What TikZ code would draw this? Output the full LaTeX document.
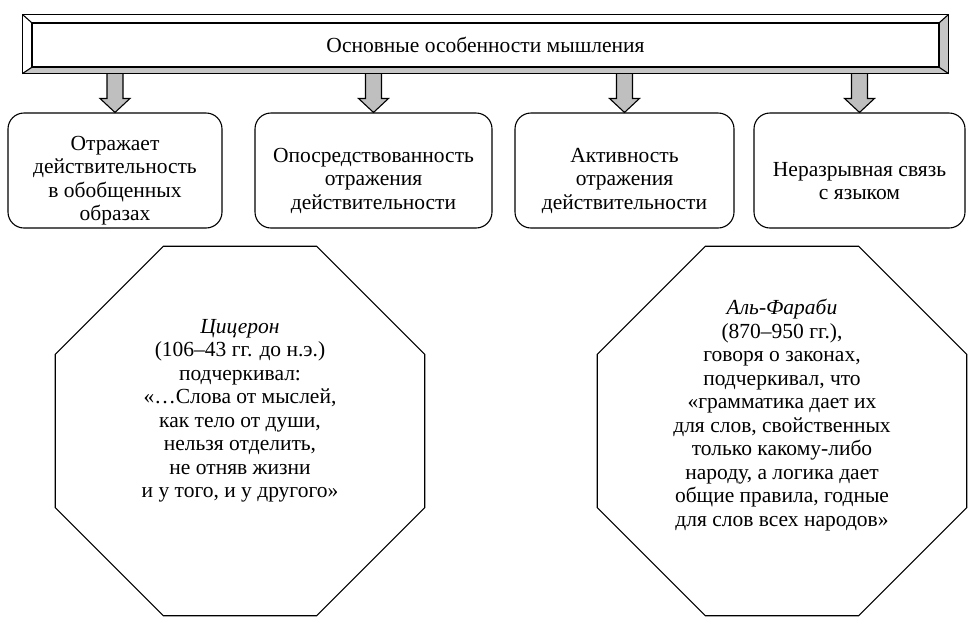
\documentclass[tikz,border=0pt]{standalone}
\usepackage{fontspec}
\setmainfont{Liberation Serif}
\usetikzlibrary{calc,shapes.geometric}

\newcommand{\fatarrow}[2]{%
  \draw[arrowbody] let \p1=(#1), \p2=(#2) in
    (\x2-8pt,\y1) -- (\x2+8pt,\y1) -- (\x2+8pt,\y2+14pt) -- (\x2+15pt,\y2+14pt)
    -- (\x2,\y2) -- (\x2-15pt,\y2+14pt) -- (\x2-8pt,\y2+14pt) -- cycle;}
\newcommand{\lowered}{\rule{0pt}{35pt}}

\begin{document}
\begin{tikzpicture}[x=1pt,y=1pt,
  txt/.style={font=\fontsize{21.5}{23.5}\selectfont},
  bar/.style={txt,draw,line width=1.1pt,minimum width=907pt,minimum height=44pt,inner sep=0pt},
  frame/.style={line width=1.1pt},
  bevel/.style={fill=gray!45},
  arrowbody/.style={draw,line width=1.1pt,fill=gray!50},
  feature/.style={txt,draw,line width=1.1pt,rounded corners=16pt,minimum height=115pt,align=center,inner sep=2pt},
  octa/.style={draw,line width=1.1pt,regular polygon,regular polygon sides=8,minimum size=400pt,inner sep=0pt},
  quote/.style={txt,align=center,inner sep=0pt}]

\useasboundingbox (0,0) rectangle (977,-625);

\node[feature,minimum width=214pt] (reflect) at (115,-170.5) {\lowered Отражает\\действительность\\в обобщенных\\образах};
\node[feature,minimum width=237pt] (mediated) at (373.5,-170.5) {\lowered Опосредствованность\\отражения\\действительности};
\node[feature,minimum width=219pt] (active) at (624.5,-170.5) {\lowered Активность\\отражения\\действительности};
\node[feature,minimum width=211pt] (language) at (859.5,-170.5) {\lowered Неразрывная связь\\с языком};

\node[bar] (bar) at (485.5,-45) {Основные особенности мышления};

\foreach \b in {reflect,mediated,active,language}{
  \fatarrow{bar.south}{\b.north}
}

\coordinate (outer north west) at ($(bar.north west)+(-9,8)$);
\coordinate (outer north east) at ($(bar.north east)+(9,8)$);
\coordinate (outer south east) at ($(bar.south east)+(9,-6)$);
\coordinate (outer south west) at ($(bar.south west)+(-9,-6)$);

\fill[bevel] (bar.south west) -- (bar.south east) -- (outer south east) -- (outer south west) -- cycle;
\fill[bevel] (bar.north east) -- (outer north east) -- (outer south east) -- (bar.south east) -- cycle;
\draw[frame] (outer north west) rectangle (outer south east);
\draw[frame] (bar.north west) rectangle (bar.south east);
\foreach \c in {north west,north east,south east,south west}
  \draw[frame] (bar.\c) -- (outer \c);

\node[octa] (cicero) at (240,-431) {};
\node[quote] (cicero text) at ($(cicero.center)+(0,20)$) {\textit{Цицерон}\\(106–43 гг. до н.э.)\\подчеркивал:\\«…Слова от мыслей,\\как тело от души,\\нельзя отделить,\\не отняв жизни\\и у того, и у другого»};

\node[octa] (farabi) at (782,-431) {};
\node[quote] (farabi text) at ($(farabi.center)+(0,16)$) {\textit{Аль-Фараби}\\(870–950 гг.),\\говоря о законах,\\подчеркивал, что\\«грамматика дает их\\для слов, свойственных\\только какому-либо\\народу, а логика дает\\общие правила, годные\\для слов всех народов»};

\end{tikzpicture}
\end{document}
